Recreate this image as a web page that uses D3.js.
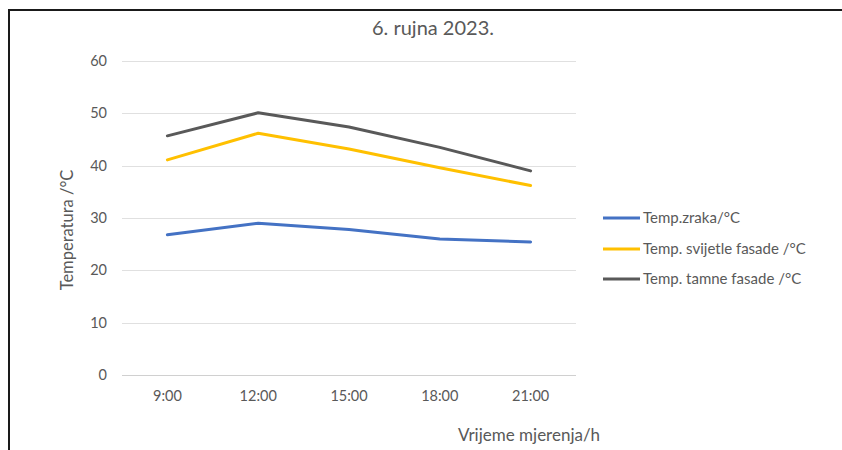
<!DOCTYPE html>
<html>
<head>
<meta charset="utf-8">
<script src="https://cdn.jsdelivr.net/npm/d3@7"></script>
<style>
  body { margin: 0; background: #fff; }
  svg { display: block; font-family: Lato, "Open Sans", sans-serif; }
</style>
</head>
<body>
<svg id="chart" width="842" height="450"></svg>
<script>
// podaci
const categories = ["9:00", "12:00", "15:00", "18:00", "21:00"]
const zraka = [26.8, 29.0, 27.8, 26.0, 25.4]
const svijetle = [41.1, 46.2, 43.2, 39.6, 36.2]
const tamne = [45.7, 50.1, 47.4, 43.5, 39.0]
const yTicks = [0, 10, 20, 30, 40, 50, 60]
const seriesNames = ["Temp.zraka/°C", "Temp. svijetle fasade /°C", "Temp. tamne fasade /°C"]
const seriesColors = ["#4472C4", "#FFC000", "#595959"]

const series = [zraka, svijetle, tamne].map((vals, i) => ({
    name: seriesNames[i], color: seriesColors[i], values: vals
}))

let svg = d3.select("#chart")
let margin = { left: 122, right: 266, top: 61, bottom: 75 }
let width = 842, height = 450

// okvir
svg.append("path")
    .attr("d", "M9,450 V10 H842")
    .attr("fill", "none")
    .attr("stroke", "#1a1a1a")
    .attr("stroke-width", 2)

let xScale = d3.scaleBand()
    .domain(categories)
    .range([margin.left, width - margin.right])
    .padding(0)

let yScale = d3.scaleLinear()
    .domain([0, 60])
    .range([height - margin.bottom, margin.top])

// mreza
svg.append("g")
    .selectAll("line")
    .data(yTicks)
    .enter()
    .append("line")
    .attr("x1", margin.left)
    .attr("x2", width - margin.right)
    .attr("y1", d => Math.round(yScale(d)) + 0.5)
    .attr("y2", d => Math.round(yScale(d)) + 0.5)
    .attr("stroke", d => d == 0 ? "#d0d0d0" : "#e0e0e0")
    .attr("stroke-width", 1)

// y os
let yAxis = svg.append("g")
    .attr("transform", "translate(" + (margin.left - 15) + ",0)")
    .call(d3.axisLeft(yScale).tickValues(yTicks).tickSize(0).tickPadding(0))
yAxis.select(".domain").remove()
yAxis.selectAll("text")
    .attr("font-size", "14.5px")
    .attr("fill", "#595959")
    .attr("font-family", "Lato, sans-serif")

// x os
let xAxis = svg.append("g")
    .attr("transform", "translate(0," + (height - margin.bottom + 16) + ")")
    .call(d3.axisBottom(xScale).tickSize(0).tickPadding(0))
xAxis.select(".domain").remove()
xAxis.selectAll("text")
    .attr("font-size", "14.5px")
    .attr("fill", "#595959")
    .attr("font-family", "Lato, sans-serif")

// linije
let line = d3.line()
    .x((d, i) => xScale(categories[i]) + xScale.bandwidth() / 2)
    .y(d => yScale(d))

svg.append("g")
    .selectAll("path")
    .data(series)
    .enter()
    .append("path")
    .attr("d", d => line(d.values))
    .attr("fill", "none")
    .attr("stroke", d => d.color)
    .attr("stroke-width", 3)
    .attr("stroke-linejoin", "round")
    .attr("stroke-linecap", "round")

// naslov
svg.append("text")
    .attr("x", 433)
    .attr("y", 35)
    .attr("text-anchor", "middle")
    .attr("font-size", "20px")
    .attr("fill", "#595959")
    .text("6. rujna 2023.")

svg.append("text")
    .attr("transform", "translate(73,230) rotate(-90)")
    .attr("text-anchor", "middle")
    .attr("font-size", "16.5px")
    .attr("fill", "#595959")
    .text("Temperatura /°C")

svg.append("text")
    .attr("x", 529)
    .attr("y", 441)
    .attr("text-anchor", "middle")
    .attr("font-size", "17px")
    .attr("fill", "#595959")
    .text("Vrijeme mjerenja/h")

// legenda
let legendY = [218, 249, 279]
let legend = svg.append("g")
    .selectAll("g")
    .data(series)
    .enter()
    .append("g")
    .attr("transform", (d, i) => "translate(603," + legendY[i] + ")")
legend.append("line")
    .attr("x1", 0).attr("x2", 37)
    .attr("stroke", d => d.color)
    .attr("stroke-width", 3)
legend.append("text")
    .attr("x", 40)
    .attr("dy", "0.35em")
    .attr("font-size", "15px")
    .attr("fill", "#595959")
    .text(d => d.name)
</script>
</body>
</html>
